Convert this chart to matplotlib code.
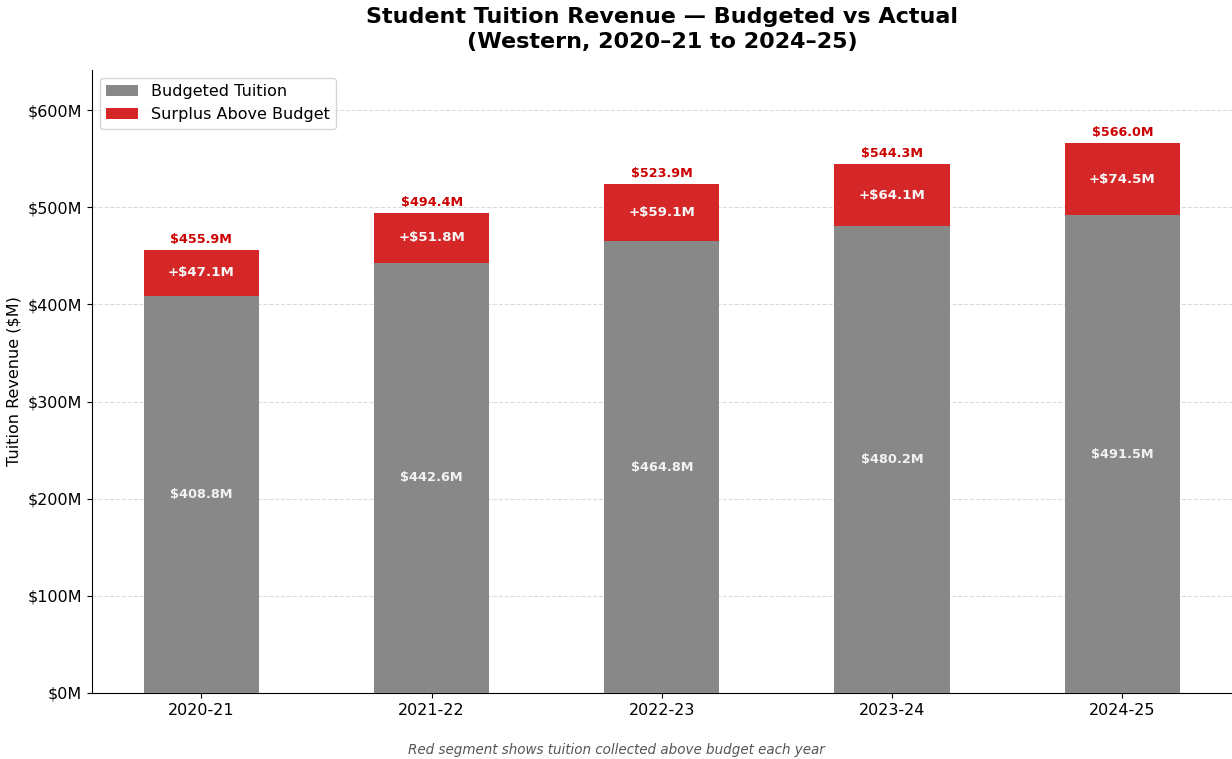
import matplotlib
matplotlib.use("Agg")
import matplotlib.pyplot as plt
import numpy as np

# 資料
years = ["2020-21", "2021-22", "2022-23", "2023-24", "2024-25"]
budgeted = [408.8, 442.6, 464.8, 480.2, 491.5]
actual = [455.9, 494.4, 523.9, 544.3, 566.0]
surplus = [a - b for a, b in zip(actual, budgeted)]

fig = plt.figure(figsize=(12.32, 7.59), dpi=100)
ax = fig.add_axes([0.0747, 0.087, 0.925, 0.8208])

x = np.arange(len(years))
ax.bar(x, budgeted, 0.5, color="#888888", label="Budgeted Tuition", zorder=3)
ax.bar(x, surplus, 0.5, bottom=budgeted, color="#d62728", label="Surplus Above Budget", zorder=3)

for i in range(len(years)):
    ax.text(x[i], budgeted[i] / 2, f"${budgeted[i]:.1f}M", ha="center", va="center",
            color="#f2f2f2", fontsize=9.3, fontweight="bold", zorder=4)
    ax.text(x[i], budgeted[i] + surplus[i] / 2, f"+${surplus[i]:.1f}M", ha="center", va="center",
            color="#f7f7f7", fontsize=9.6, fontweight="bold", zorder=4)
    ax.text(x[i], actual[i] + 4, f"${actual[i]:.1f}M", ha="center", va="bottom",
            color="#cc0000", fontsize=9.2, fontweight="bold", zorder=4)

ax.set_xticks(x)
ax.set_xticklabels(years, fontsize=11.5)
ax.set_ylim(0, max(actual) * 1.133)
ax.set_yticks(np.arange(0, 601, 100))
ax.set_yticklabels([f"${v}M" for v in range(0, 601, 100)], fontsize=11.5)
ax.set_ylabel("Tuition Revenue ($M)", fontsize=11.5, labelpad=4.5)
ax.set_title("Student Tuition Revenue — Budgeted vs Actual\n(Western, 2020–21 to 2024–25)",
             fontsize=16, fontweight="bold", pad=16, linespacing=1.3)
ax.grid(axis="y", linestyle="--", color="#cccccc", alpha=0.7, zorder=0)
ax.spines["top"].set_visible(False)
ax.spines["right"].set_visible(False)
ax.legend(loc="upper left", fontsize=11.5)

fig.text(0.5, 0.012, "Red segment shows tuition collected above budget each year",
         ha="center", va="center", fontsize=9.75, style="italic", color="#555555")

fig.savefig("out.png", dpi=100)
